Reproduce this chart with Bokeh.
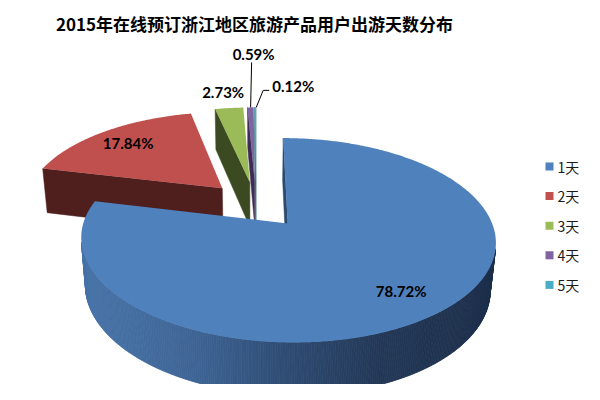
import numpy as np
from bokeh.plotting import figure
from bokeh.models import Range1d, ColumnDataSource
from bokeh.embed import file_html
from bokeh.resources import INLINE
from bokeh.core.properties import value

# ---------------- data ----------------
title_text = "2015年在线预订浙江地区旅游产品用户出游天数分布"
categories = ["1天", "2天", "3天", "4天", "5天"]
shares = [78.72, 17.84, 2.73, 0.59, 0.12]

# ---------------- style ----------------
top_colors = ["#4F81BD", "#C0504D", "#9BBB59", "#8064A2", "#4BACC6"]
face_colors = ["#2B4A70", "#4F1F1E", "#3C4A22", "#3E2C55", "#2A6F80"]
draw_order = [1, 2, 3, 4, 0]
# outside label offsets (px) relative to outer arc midpoint
out_offsets = {2: (-6, -16), 3: (3, -53), 4: (38, -21)}

# 3D projection parameters (screen pixel space of the 600x400 page)
E = 0.25          # explode fraction of radius
A_PX = 198.0      # horizontal radius in px at the centre depth
SIN_A = 0.471
COS_A = np.sqrt(1 - SIN_A ** 2)
DIST = COS_A / 0.16
FOC = A_PX * DIST
CX, CY = 255.5, 204.0
THICK = 0.27


def proj(X, Y, Z):
    zc = DIST + Y * COS_A - Z * SIN_A
    return CX + FOC * X / zc, CY - FOC * (Y * SIN_A + Z * COS_A) / zc


CAM_Y = -DIST * COS_A


def visible(nx, ny, px, py):
    return nx * (0 - px) + ny * (CAM_Y - py) > 0


gx = [85, 200, 280, 380, 495]
gr = [72, 62, 48, 36, 28]
gg = [116, 100, 78, 57, 46]
gb = [168, 148, 118, 88, 74]


def grad(x):
    return "#%02x%02x%02x" % (int(np.interp(x, gx, gr)), int(np.interp(x, gx, gg)), int(np.interp(x, gx, gb)))


p = figure(width=584, height=384, x_range=Range1d(0, 584), y_range=Range1d(384, 0),
           output_backend="svg", toolbar_location=None, min_border=0,
           x_axis_type=None, y_axis_type=None)
p.outline_line_color = None
p.background_fill_color = "white"

bounds = np.cumsum([0] + shares) / sum(shares) * 2 * np.pi

P_xs, P_ys, P_fill, P_line, P_lw = [], [], [], [], []


def add(poly, fill, lw=0.0):
    P_xs.append([q[0] for q in poly])
    P_ys.append([q[1] for q in poly])
    P_fill.append(fill)
    P_line.append(fill)
    P_lw.append(lw)


anchors = {}
for i in draw_order:
    t1, t2 = bounds[i], bounds[i + 1]
    mid = (t1 + t2) / 2
    ox, oy = E * np.sin(mid), E * np.cos(mid)
    n = max(2, int(np.ceil((t2 - t1) / 0.01))) + 1
    th = np.linspace(t1, t2, n)
    # outer side strips
    for j in range(n - 1):
        tm = (th[j] + th[j + 1]) / 2
        if visible(np.sin(tm), np.cos(tm), ox + np.sin(tm), oy + np.cos(tm)):
            a, b = th[j], th[j + 1]
            quad = [proj(ox + np.sin(a), oy + np.cos(a), 0), proj(ox + np.sin(b), oy + np.cos(b), 0),
                    proj(ox + np.sin(b), oy + np.cos(b), -THICK), proj(ox + np.sin(a), oy + np.cos(a), -THICK)]
            xm = (quad[0][0] + quad[1][0]) / 2
            add(quad, grad(xm) if i == 0 else face_colors[i], 0.8)
    # radial faces
    for t, nang in [(t1, t1 - np.pi / 2), (t2, t2 + np.pi / 2)]:
        fx, fy = ox + 0.5 * np.sin(t), oy + 0.5 * np.cos(t)
        if visible(np.sin(nang), np.cos(nang), fx, fy):
            quad = [proj(ox, oy, 0), proj(ox + np.sin(t), oy + np.cos(t), 0),
                    proj(ox + np.sin(t), oy + np.cos(t), -THICK), proj(ox, oy, -THICK)]
            add(quad, face_colors[i], 0.5)
    # top
    poly = [proj(ox, oy, 0)] + [proj(ox + np.sin(t), oy + np.cos(t), 0) for t in th]
    add(poly, top_colors[i], 0.0)
    anchors[i] = (ox, oy, mid)

src = ColumnDataSource(dict(xs=P_xs, ys=P_ys, fill=P_fill, line=P_line, lw=P_lw))
p.patches("xs", "ys", source=src, fill_color="fill", line_color="line", line_width="lw")

# data labels
lab_x, lab_y, lab_t = [], [], []
lead_xs, lead_ys = [], []
for i, v in enumerate(shares):
    ox, oy, mid = anchors[i]
    txt = "%.2f%%" % v
    if i in out_offsets:
        ax, ay = proj(ox + np.sin(mid), oy + np.cos(mid), 0)
        dx, dy = out_offsets[i]
        lx, ly = ax + dx, ay + dy
        lab_x.append(lx); lab_y.append(ly); lab_t.append(txt)
        if i == 3:
            lead_xs.append([ax, ax + 1]); lead_ys.append([ay, ly + 8])
        elif i == 4:
            lead_xs.append([ax + 1, lx - 30, lx - 24]); lead_ys.append([ay, ly + 4, ly + 4])
    else:
        lx, ly = proj(ox + 0.78 * np.sin(mid), oy + 0.78 * np.cos(mid), 0)
        lab_x.append(lx); lab_y.append(ly); lab_t.append(txt)

p.multi_line(lead_xs, lead_ys, line_color="#000000", line_width=1)
p.text(x=lab_x, y=lab_y, text=lab_t, text_font=value("Lato"), text_font_style="bold",
       text_font_size="15px", text_align="center", text_baseline="middle", text_color="#000000")

# title
p.text(x=[254], y=[22.5], text=[title_text], text_font=value("Noto Sans CJK SC"), text_font_style="bold",
       text_font_size="17px", text_align="center", text_baseline="middle", text_color="#000000")

# legend
leg_y = [166 + k * 29.6 for k in range(len(categories))]
p.rect(x=[549] * len(categories), y=leg_y, width=8, height=8, fill_color=top_colors, line_color=None)
p.text(x=[557] * len(categories), y=leg_y, text=categories, text_font=value("Noto Sans CJK SC"),
       text_font_size="14px", text_align="left", text_baseline="middle", text_color="#1a1a1a")

open("out.html", "w").write(file_html(p, INLINE))
